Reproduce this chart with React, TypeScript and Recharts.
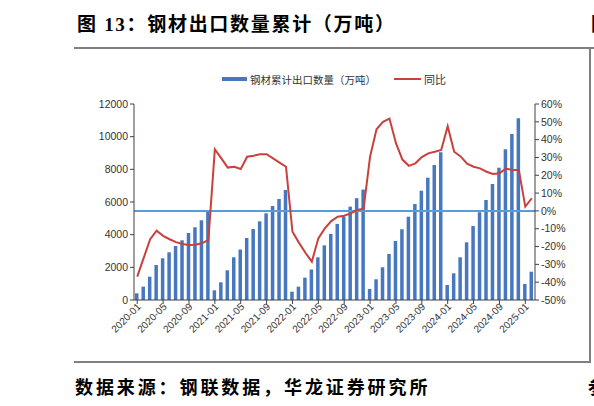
import { Bar, ComposedChart, Line, ReferenceLine, XAxis, YAxis } from "recharts";

// 月份（2020-01 ~ 2025-02）
const months = [
  "2020-01", "2020-02", "2020-03", "2020-04", "2020-05", "2020-06",
  "2020-07", "2020-08", "2020-09", "2020-10", "2020-11", "2020-12",
  "2021-01", "2021-02", "2021-03", "2021-04", "2021-05", "2021-06",
  "2021-07", "2021-08", "2021-09", "2021-10", "2021-11", "2021-12",
  "2022-01", "2022-02", "2022-03", "2022-04", "2022-05", "2022-06",
  "2022-07", "2022-08", "2022-09", "2022-10", "2022-11", "2022-12",
  "2023-01", "2023-02", "2023-03", "2023-04", "2023-05", "2023-06",
  "2023-07", "2023-08", "2023-09", "2023-10", "2023-11", "2023-12",
  "2024-01", "2024-02", "2024-03", "2024-04", "2024-05", "2024-06",
  "2024-07", "2024-08", "2024-09", "2024-10", "2024-11", "2024-12",
  "2025-01", "2025-02",
];

// 钢材累计出口数量（万吨）
const exportCum = [
  410, 815, 1427, 2143, 2553, 2921, 3307, 3656, 4103, 4452, 4880, 5389,
  594, 1084, 1819, 2615, 3090, 3796, 4347, 4817, 5306, 5755, 6184, 6735,
  510, 816, 1367, 1870, 2613, 3347, 4041, 4660, 5102, 5715, 6235, 6760,
  674, 1268, 2002, 2817, 3613, 4329, 5101, 5879, 6693, 7489, 8267, 9045,
  918, 1635, 2615, 3533, 4531, 5370, 6124, 7104, 8101, 9228, 10165, 11127,
  980, 1733,
];

// 同比（%）
const yoy = [
  -36.9, -26.4, -15.9, -11.1, -14.0, -15.9, -17.5, -18.6, -19.1, -19.0, -18.2, -16.3,
  34.6, 29.5, 24.3, 24.8, 23.5, 30.4, 31.0, 31.8, 31.8, 29.5, 27.1, 24.8,
  -11.7, -17.8, -23.5, -28.5, -15.4, -9.8, -5.7, -3.3, -2.7, -1.4, 0.5, 1.2,
  30.5, 45.8, 50.0, 51.8, 38.0, 28.8, 25.3, 26.7, 30.2, 32.3, 33.2, 34.2,
  47.5, 33.2, 30.6, 26.5, 24.8, 23.9, 22.0, 20.7, 21.1, 23.7, 23.0, 23.0,
  2.4, 7.1,
];

const leftTicks = [0, 2000, 4000, 6000, 8000, 10000, 12000];
const rightTicks = [-50, -40, -30, -20, -10, 0, 10, 20, 30, 40, 50, 60];

const BAR_COLOR = "#4677c0";
const LINE_COLOR = "#c9403c";
const ZERO_COLOR = "#5a9bd8";
const AXIS_COLOR = "#404040";
const TEXT_COLOR = "#333333";
const SANS = '"Liberation Sans", "Noto Sans CJK SC", Arial, sans-serif';
const SERIF_BOLD = '"Liberation Serif", "Noto Sans CJK SC", serif';

const data = months.map((month, i) => ({
  month,
  exports: exportCum[i],
  yoy: yoy[i],
}));

/** x 轴斜 45° 的月份标签 */
function MonthTick(props: any) {
  const { x, y, payload } = props;
  return (
    <g transform={`translate(${x},${y})`}>
      <text
        x={0}
        y={0}
        dx={2}
        dy={4}
        textAnchor="end"
        transform="rotate(-45)"
        fontSize={10}
        fontFamily={SANS}
        fill={TEXT_COLOR}
      >
        {payload.value}
      </text>
    </g>
  );
}

export default function App() {
  return (
    <div
      style={{
        position: "absolute",
        left: 0,
        top: 0,
        width: 594,
        height: 406,
        overflow: "hidden",
        background: "#fff",
      }}
    >
      {/* 标题 */}
      <div
        style={{
          position: "absolute",
          left: 77,
          top: 12,
          fontFamily: SERIF_BOLD,
          fontWeight: "bold",
          fontSize: 19,
          letterSpacing: 1.7,
          whiteSpace: "nowrap",
          color: "#000",
          lineHeight: "26px",
        }}
      >
        图 13：钢材出口数量累计（万吨）
      </div>
      <div
        style={{
          position: "absolute",
          left: 591,
          top: 12,
          fontFamily: SERIF_BOLD,
          fontWeight: "bold",
          fontSize: 19,
          lineHeight: "26px",
          whiteSpace: "nowrap",
        }}
      >
        图
      </div>

      {/* 边框线 */}
      <div style={{ position: "absolute", left: 74, top: 47, width: 520, height: 2, background: "#7f7f7f" }} />
      <div style={{ position: "absolute", left: 74, top: 361, width: 516, height: 2, background: "#7f7f7f" }} />
      <div style={{ position: "absolute", left: 589, top: 47, width: 1.5, height: 316, background: "#7f7f7f" }} />

      {/* 图例 */}
      <div
        style={{
          position: "absolute",
          left: 222,
          top: 71,
          height: 16,
          display: "flex",
          alignItems: "center",
          fontFamily: SANS,
          fontSize: 10.5,
          color: TEXT_COLOR,
          whiteSpace: "nowrap",
        }}
      >
        <span style={{ display: "inline-block", width: 25, height: 4.5, background: BAR_COLOR, marginRight: 3 }} />
        <span>钢材累计出口数量（万吨）</span>
        <span style={{ display: "inline-block", width: 27, height: 2, background: LINE_COLOR, marginLeft: 18, marginRight: 3 }} />
        <span style={{ fontSize: 11 }}>同比</span>
      </div>

      <div style={{ position: "absolute", left: 0, top: 0 }}>
        <ComposedChart
          width={594}
          height={406}
          data={data}
          margin={{ top: 104, right: 14, bottom: 56, left: 94 }}
          barCategoryGap={0}
        >
          <XAxis
            dataKey="month"
            interval={3}
            tick={<MonthTick />}
            tickSize={4}
            stroke={AXIS_COLOR}
            height={50}
          />
          <YAxis
            yAxisId="left"
            domain={[0, 12000]}
            ticks={leftTicks}
            interval={0}
            tickSize={4}
            tickMargin={2}
            stroke={AXIS_COLOR}
            width={40}
            tick={{ fontSize: 10.5, fill: TEXT_COLOR, fontFamily: SANS }}
          />
          <YAxis
            yAxisId="right"
            orientation="right"
            domain={[-50, 60]}
            ticks={rightTicks}
            interval={0}
            tickSize={4}
            tickMargin={2}
            stroke={AXIS_COLOR}
            width={45}
            tickFormatter={(v: number) => `${v}%`}
            tick={{ fontSize: 10.5, fill: TEXT_COLOR, fontFamily: SANS, textAnchor: "start" }}
          />
          <Bar
            yAxisId="left"
            dataKey="exports"
            fill={BAR_COLOR}
            barSize={3.5}
            isAnimationActive={false}
          />
          <ReferenceLine yAxisId="right" y={0} stroke={ZERO_COLOR} strokeWidth={2} />
          <Line
            yAxisId="right"
            type="linear"
            dataKey="yoy"
            stroke={LINE_COLOR}
            strokeWidth={2}
            dot={false}
            activeDot={false}
            isAnimationActive={false}
          />
        </ComposedChart>
      </div>

      {/* 数据来源 */}
      <div
        style={{
          position: "absolute",
          left: 75,
          top: 375,
          fontFamily: SERIF_BOLD,
          fontWeight: "bold",
          fontSize: 18,
          letterSpacing: 2.9,
          lineHeight: "26px",
          whiteSpace: "nowrap",
          color: "#000",
        }}
      >
        数据来源：钢联数据，华龙证券研究所
      </div>
      <div
        style={{
          position: "absolute",
          left: 588,
          top: 375,
          fontFamily: SERIF_BOLD,
          fontWeight: "bold",
          fontSize: 18,
          lineHeight: "26px",
          whiteSpace: "nowrap",
        }}
      >
        参
      </div>
    </div>
  );
}
